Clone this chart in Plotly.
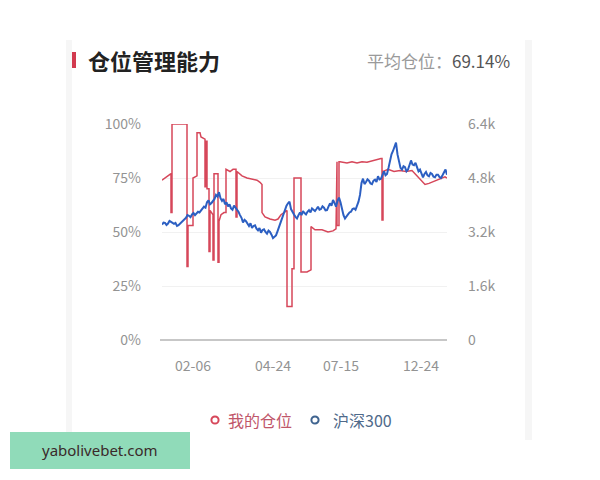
import plotly.graph_objects as go

# ---------------- data ----------------
x_tick_idx = [31, 111, 179, 259]
x_tick_text = ["02-06", "04-24", "07-15", "12-24"]

left_tick_vals = [0, 25, 50, 75, 100]
left_tick_text = ["0%", "25%", "50%", "75%", "100%"]
right_tick_vals = [0, 1600, 3200, 4800, 6400]
right_tick_text = ["0", "1.6k", "3.2k", "4.8k", "6.4k"]

# 我的仓位 (%), trading-day index
pos_idx = [0, 3, 5, 8, 9, 9, 10, 10, 25, 25, 26, 26, 31, 31, 34, 35, 35, 38, 39, 43,
           43, 44, 44, 45, 45, 47, 47, 48, 48, 50, 51, 51, 52, 52, 55, 56, 56, 57, 57, 59,
           62, 64, 64, 68, 71, 74, 74, 75, 75, 77, 80, 85, 90, 95, 98, 100, 100, 103, 108, 113,
           116, 119, 122, 125, 125, 130, 130, 132, 132, 139, 139, 145, 149, 149, 153, 160, 166, 171, 174, 175,
           175, 177, 177, 178, 185, 190, 195, 200, 205, 210, 214, 219, 220, 220, 221, 221, 226, 232, 238, 244,
           250, 255, 260, 263, 267, 272, 277, 283, 285]
pos_val = [74, 75, 76, 77, 77, 59, 59, 100, 100, 34, 34, 53, 53, 75, 76, 76, 96, 96, 94, 93,
           71, 71, 92, 92, 70, 70, 41, 41, 60, 59, 58, 37, 37, 77, 77, 77, 36, 36, 55, 58,
           59, 59, 79, 78, 79, 79, 57, 57, 78, 77, 76, 75, 74.5, 74, 73, 72, 59, 57, 56, 55.5,
           56, 58, 59, 60, 15.5, 15.5, 33, 33, 75, 75, 31.5, 31.5, 32.5, 52.5, 51, 51, 50, 50.5, 51.5, 82.5,
           53, 53, 82.5, 82.5, 82, 82.5, 82, 82.5, 82.3, 83, 83.5, 84, 84, 55.5, 55.5, 78, 79, 78, 78.5, 78,
           78.5, 76, 73, 72, 72.5, 73.5, 74.5, 75.5, 75]

# 沪深300 index level
hs_idx = [0, 1.5, 3, 4.5, 6, 7.5, 9, 10.5, 12, 13.5, 15, 16.5, 18, 19.5, 21, 22.5, 24, 25.5, 27, 28.5,
          30, 31.5, 33, 34.5, 36, 37.5, 39, 40.5, 42, 43.5, 45, 46.5, 48, 49.5, 51, 52.5, 54, 55.5, 57, 58.5,
          60, 61.5, 63, 64.5, 66, 67.5, 69, 70.5, 72, 73.5, 75, 76.5, 78, 79.5, 81, 82.5, 84, 85.5, 87, 88.5,
          90, 91.5, 93, 94.5, 96, 97.5, 99, 100.5, 102, 103.5, 105, 106.5, 108, 109.5, 111, 112.5, 114, 115.5, 117, 118.5,
          120, 121.5, 123, 124.5, 126, 127.5, 129, 130.5, 132, 133.5, 135, 136.5, 138, 139.5, 141, 142.5, 144, 145.5, 147, 148.5,
          150, 151.5, 153, 154.5, 156, 157.5, 159, 160.5, 162, 163.5, 165, 166.5, 168, 169.5, 171, 172.5, 174, 175.5, 177, 178.5,
          180, 181.5, 183, 184.5, 186, 187.5, 189, 190.5, 192, 193.5, 195, 196.5, 198, 199.5, 201, 202.5, 204, 205.5, 207, 208.5,
          210, 211.5, 213, 214.5, 216, 217.5, 219, 220.5, 222, 223.5, 225, 226.5, 228, 229.5, 231, 232.5, 234, 235.5, 237, 238.5,
          240, 241.5, 243, 244.5, 246, 247.5, 249, 250.5, 252, 253.5, 255, 256.5, 258, 259.5, 261, 262.5, 264, 265.5, 267, 268.5,
          270, 271.5, 273, 274.5, 276, 277.5, 279, 280.5, 282, 283.5, 285]
hs_val = [3420, 3480, 3470, 3410, 3450, 3530, 3500, 3470, 3440, 3470, 3380, 3400, 3450, 3510, 3550, 3580, 3620, 3700, 3680, 3640,
          3720, 3760, 3700, 3760, 3800, 3780, 3850, 3900, 3950, 3920, 4080, 4140, 4020, 4060, 4120, 4180, 4300, 4250, 4380, 4200,
          4120, 4180, 4020, 4080, 3960, 4020, 3900, 3860, 3980, 3920, 3880, 3800, 3700, 3620, 3480, 3560, 3520, 3440, 3380, 3460,
          3320, 3380, 3400, 3300, 3250, 3320, 3180, 3260, 3280, 3200, 3150, 3240, 3200, 3120, 3020, 3060, 3100, 3220, 3350, 3480,
          3650, 3780, 3850, 3980, 4050, 4100, 3880, 3780, 3720, 3650, 3600, 3700, 3780, 3700, 3820, 3760, 3720, 3800, 3850, 3780,
          3900, 3860, 3820, 3880, 3950, 3860, 3880, 3960, 3920, 3840, 3850, 3950, 4050, 3980, 4150, 4060, 3950, 4120, 4220, 4080,
          3850, 3700, 3600, 3680, 3720, 3780, 3800, 3880, 3900, 3860, 3980, 4100, 4300, 4650, 4780, 4620, 4680, 4760, 4720, 4640,
          4620, 4720, 4750, 4680, 4850, 4760, 4780, 4900, 5000, 4880, 4920, 5100, 5350, 5500, 5600, 5750, 5850, 5500, 5300, 5100,
          5050, 5150, 5120, 5000, 5050, 5180, 5320, 5200, 5180, 5250, 5100, 5000, 5050, 4950, 4820, 4920, 4980, 4880, 4850, 4950,
          4920, 4840, 4820, 4900, 4900, 4830, 4800, 4880, 4980, 5050, 4900]

names = ["我的仓位", "沪深300"]
RED = "#d6475a"
BLUE = "#2c5fc2"
FONT = "Noto Sans CJK SC"
TICK = "#939393"

# ---------------- layout helpers (screen pixel -> paper) ----------------
OFF = 8  # default body margin of the page
L, R, T, B = 162 - OFF, 447 - OFF, 124 - OFF, 340 - OFF
def px(x):
    return (x - OFF - L) / (R - L)
def py(y):
    return (B - (y - OFF)) / (B - T)

fig = go.Figure()
fig.add_trace(go.Scatter(x=pos_idx, y=pos_val, mode="lines", line=dict(color=RED, width=1.5),
                         showlegend=False, yaxis="y", name=names[0]))
fig.add_trace(go.Scatter(x=hs_idx, y=hs_val, mode="lines", line=dict(color=BLUE, width=2),
                         showlegend=False, yaxis="y2", name=names[1]))

# legend built from circles + text
legend_items = [(215, 226, names[0], RED, "#c0566a"), (315, 331, names[1], "#3f638f", "#4f6a8a")]
shapes = [
    dict(type="line", xref="paper", yref="paper", x0=px(160), x1=1, y0=0, y1=0,
         line=dict(color="#b5b5b5", width=1.3), layer="below"),
    dict(type="rect", xref="paper", yref="paper", x0=px(66), x1=px(72), y0=py(440), y1=py(40),
         fillcolor="#f6f6f6", line=dict(width=0), layer="below"),
    dict(type="rect", xref="paper", yref="paper", x0=px(525), x1=px(532), y0=py(440), y1=py(40),
         fillcolor="#f6f6f6", line=dict(width=0), layer="below"),
    dict(type="rect", xref="paper", yref="paper", x0=px(72), x1=px(76), y0=py(68), y1=py(52),
         fillcolor="#d23a4f", line=dict(width=0)),
    dict(type="rect", xref="paper", yref="paper", x0=px(10), x1=px(190), y0=py(469), y1=py(432),
         fillcolor="#90dbb9", line=dict(width=0)),
]
annotations = [
    dict(text="<b>仓位管理能力</b>", xref="paper", yref="paper", x=px(86), y=py(60),
         xanchor="left", yanchor="middle", showarrow=False,
         font=dict(size=22, color="#222222", family=FONT)),
    dict(text="<span style='color:#9a9a9a'>平均仓位：</span><span style='color:#555555'>69.14%</span>",
         xref="paper", yref="paper", x=px(512), y=py(61), xanchor="right", yanchor="middle",
         showarrow=False, font=dict(size=17, family=FONT)),
    dict(text="yabolivebet.com", xref="paper", yref="paper", x=px(100), y=py(450),
         xanchor="center", yanchor="middle", showarrow=False,
         font=dict(size=15, color="#3a2a2a", family="Noto Sans")),
]
for cx, tx, label, mcol, tcol in legend_items:
    shapes.append(dict(type="circle", xref="paper", yref="paper",
                       x0=px(cx - 3.6), x1=px(cx + 3.6), y0=py(420 + 3.6), y1=py(420 - 3.6),
                       line=dict(color=mcol, width=2), fillcolor="white"))
    annotations.append(dict(text=label, xref="paper", yref="paper", x=px(tx), y=py(420),
                            xanchor="left", yanchor="middle", showarrow=False,
                            font=dict(size=16, color=tcol, family=FONT)))

fig.update_layout(
    width=600, height=480,
    margin=dict(l=L, r=600 - R, t=T, b=480 - B),
    paper_bgcolor="white", plot_bgcolor="white",
    showlegend=False,
    font=dict(family=FONT, color=TICK, size=14),
    xaxis=dict(range=[0, 285], tickvals=x_tick_idx, ticktext=x_tick_text, showgrid=False,
               zeroline=False, showline=False, ticks="", ticklabelstandoff=16,
               tickfont=dict(size=14, color=TICK)),
    yaxis=dict(range=[0, 100], tickvals=left_tick_vals, ticktext=left_tick_text,
               showgrid=True, gridcolor="#f1f1f1", gridwidth=1, zeroline=False, showline=False,
               ticks="", ticklabelstandoff=20, tickfont=dict(size=14, color=TICK)),
    yaxis2=dict(range=[0, 6400], tickvals=right_tick_vals, ticktext=right_tick_text,
                overlaying="y", side="right", showgrid=False, zeroline=False, showline=False,
                ticks="", ticklabelstandoff=20, tickfont=dict(size=14, color=TICK)),
    shapes=shapes,
    annotations=annotations,
)

fig.write_html("out.html")
